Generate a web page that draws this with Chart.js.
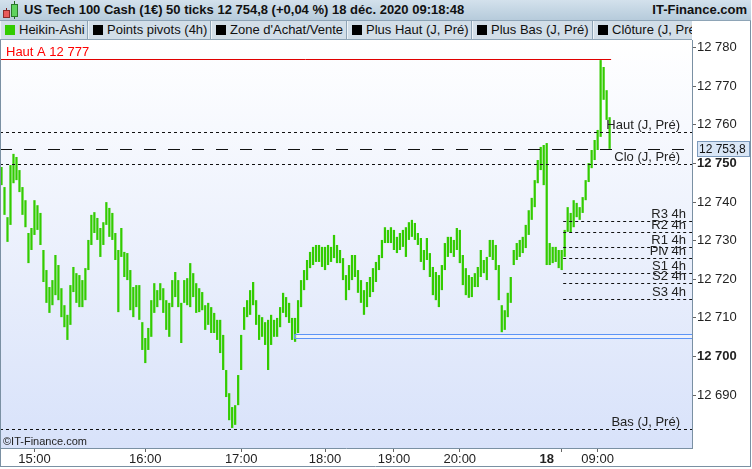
<!DOCTYPE html>
<html>
<head>
<meta charset="utf-8">
<script src="https://cdn.jsdelivr.net/npm/chart.js@4.4.0/dist/chart.umd.min.js"></script>
<style>
  body { margin: 0; width: 752px; height: 469px; overflow: hidden; position: relative; background: #fff;
         font-family: "Liberation Sans", Arial, sans-serif; }
  #chart { position: absolute; left: 0; top: 0; }
  #title { position: absolute; left: 0; top: 0; width: 751px; height: 20px; border-bottom: 1px solid #8ea4b6;
           background: linear-gradient(#d3e1ec, #b6cbdb); font-weight: bold; font-size: 13px; line-height: 20px; color: #111; }
  #title .name { position: absolute; left: 24px; top: 0; }
  #title .site { position: absolute; right: 4px; top: 0; }
  .cdl { position: absolute; }
  #legend { position: absolute; left: 0; top: 21px; width: 692px; height: 18px; background: #d2dee8;
            border-bottom: 1px solid #8ea4b6; overflow: hidden; font-size: 13px; line-height: 18px; color: #111; }
  .cell { position: absolute; top: 0; height: 18px; border-right: 1px solid #8ea4b6; box-shadow: inset 1px 0 0 #eef3f7; white-space: nowrap; }
  .cell i { position: absolute; left: 5px; top: 4px; width: 10px; height: 10px; background: #000; }
  .cell span { position: absolute; left: 19px; top: 0; }
</style>
</head>
<body>
<canvas id="chart" width="752" height="469"></canvas>

<div id="title">
  <div class="cdl" style="left:6px;top:8px;width:1px;height:10px;background:#7a2020"></div>
  <div class="cdl" style="left:3px;top:10px;width:5px;height:6px;background:#e85a5a;border:1px solid #8a2a2a"></div>
  <div class="cdl" style="left:14px;top:1px;width:1px;height:18px;background:#1f6a1f"></div>
  <div class="cdl" style="left:11px;top:4px;width:5px;height:11px;background:#5fd35f;border:1px solid #2a7a2a"></div>
  <span class="name">US Tech 100 Cash (1€) 50 ticks 12 754,8 (+0,04 %) 18 déc. 2020 09:18:48</span>
  <span class="site">IT-Finance.com</span>
</div>

<div id="legend">
  <div class="cell" style="left:0;width:87px"><i style="background:#33cc00"></i><span>Heikin-Ashi</span></div>
  <div class="cell" style="left:88px;width:122px"><i></i><span>Points pivots (4h)</span></div>
  <div class="cell" style="left:211px;width:135px"><i></i><span>Zone d'Achat/Vente</span></div>
  <div class="cell" style="left:347px;width:124px"><i></i><span>Plus Haut (J, Pré)</span></div>
  <div class="cell" style="left:472px;width:120px"><i></i><span>Plus Bas (J, Pré)</span></div>
  <div class="cell" style="left:593px;width:110px"><i></i><span>Clôture (J, Pré)</span></div>
</div>

<script>
// Heikin-Ashi candles, 50 ticks each (grouped)
const candleHighs = [
  12749.1, 12743.9, 12736.1, 12749.6, 12752.5, 12751.7, 12748.3, 12743.9, 12740.5, 12732.0,
  12733.3, 12740.5, 12739.2, 12737.2, 12727.6, 12722.4, 12718.0, 12719.8, 12726.3, 12723.7,
  12717.7, 12713.3, 12710.8, 12718.5, 12723.2, 12721.6, 12721.1, 12719.8, 12722.9, 12730.2,
  12736.7, 12737.4, 12735.9, 12733.3, 12734.8, 12740.0, 12738.5, 12737.2, 12732.0, 12727.6,
  12733.3, 12727.1, 12726.8, 12722.4, 12718.0, 12718.5, 12718.5, 12708.9, 12704.8, 12707.4,
  12714.6, 12719.0, 12717.2, 12719.0, 12717.7, 12714.6, 12713.9, 12719.8, 12721.9, 12719.8,
  12713.9, 12719.8, 12720.3, 12724.2, 12721.6, 12719.0, 12717.7, 12716.7, 12713.3, 12713.9,
  12712.8, 12711.3, 12709.5, 12709.5, 12705.6, 12696.5, 12690.5, 12686.9, 12687.4, 12695.2,
  12705.6, 12712.8, 12714.6, 12717.2, 12719.3, 12714.6, 12710.8, 12710.2, 12708.9, 12709.5,
  12710.8, 12709.5, 12710.0, 12712.8, 12716.5, 12715.4, 12713.9, 12710.0, 12710.0, 12714.6,
  12719.8, 12722.4, 12725.0, 12727.1, 12728.4, 12728.9, 12728.9, 12728.4, 12728.4, 12728.9,
  12728.4, 12731.5, 12728.9, 12727.6, 12725.5, 12721.1, 12723.7, 12726.3, 12726.3, 12722.4,
  12719.8, 12717.2, 12719.3, 12720.6, 12722.9, 12724.5, 12726.3, 12730.2, 12733.5, 12732.8,
  12733.5, 12732.8, 12731.0, 12732.0, 12732.8, 12733.5, 12734.8, 12735.4, 12734.6, 12732.0,
  12730.7, 12727.6, 12730.7, 12726.8, 12723.2, 12721.9, 12721.1, 12723.7, 12729.4, 12731.0,
  12731.0, 12730.2, 12733.3, 12732.8, 12726.3, 12722.9, 12721.1, 12720.6, 12721.6, 12723.2,
  12727.6, 12725.0, 12725.8, 12730.2, 12730.2, 12728.9, 12723.7, 12713.3, 12712.0, 12716.5,
  12720.6, 12727.6, 12729.4, 12730.2, 12731.0, 12734.1, 12737.9, 12741.1, 12745.7, 12750.9,
  12754.3, 12754.8, 12755.3, 12729.4, 12728.4, 12728.4, 12727.6, 12727.6, 12732.8, 12738.7,
  12737.2, 12740.5, 12739.8, 12738.7, 12741.3, 12745.7, 12750.1, 12753.5, 12756.1, 12758.7,
  12776.8, 12775.0, 12769.0, 12762.0
];
const candleLows = [
  12744.4, 12736.7, 12729.7, 12734.1, 12744.9, 12745.7, 12742.6, 12736.7, 12733.5, 12724.2,
  12727.6, 12731.5, 12732.8, 12728.9, 12719.3, 12713.9, 12711.3, 12713.3, 12715.9, 12714.6,
  12710.2, 12707.6, 12704.3, 12708.2, 12716.7, 12713.9, 12712.8, 12712.8, 12714.6, 12722.4,
  12728.9, 12732.0, 12730.2, 12725.8, 12728.9, 12734.1, 12731.0, 12730.2, 12725.0, 12711.5,
  12725.8, 12720.6, 12719.8, 12712.0, 12710.2, 12712.8, 12709.5, 12701.7, 12698.3, 12701.7,
  12705.1, 12711.3, 12712.8, 12714.6, 12711.3, 12706.9, 12705.1, 12712.8, 12715.4, 12712.8,
  12703.5, 12713.9, 12713.3, 12712.8, 12715.4, 12711.3, 12711.5, 12712.0, 12706.9, 12708.2,
  12706.1, 12706.1, 12704.3, 12700.9, 12696.5, 12689.5, 12683.5, 12681.5, 12682.3, 12687.4,
  12696.5, 12706.9, 12710.2, 12710.8, 12713.3, 12708.2, 12704.3, 12705.1, 12703.0, 12696.5,
  12703.0, 12705.1, 12705.1, 12707.6, 12711.3, 12710.2, 12708.7, 12704.3, 12703.8, 12706.1,
  12712.8, 12717.2, 12719.8, 12722.9, 12723.7, 12724.5, 12724.5, 12723.2, 12722.4, 12723.7,
  12724.5, 12725.5, 12724.2, 12724.2, 12719.8, 12714.6, 12717.2, 12719.8, 12720.6, 12716.5,
  12713.9, 12710.8, 12712.8, 12715.4, 12716.7, 12719.3, 12722.4, 12725.5, 12729.4, 12729.4,
  12729.4, 12727.6, 12726.8, 12727.6, 12728.4, 12725.8, 12730.2, 12731.0, 12730.2, 12728.9,
  12724.5, 12722.4, 12725.0, 12720.6, 12715.9, 12714.6, 12712.8, 12717.2, 12722.4, 12725.8,
  12726.8, 12725.8, 12727.6, 12724.2, 12718.5, 12715.9, 12715.2, 12715.4, 12718.0, 12718.0,
  12720.6, 12721.6, 12719.8, 12725.8, 12725.0, 12722.4, 12714.6, 12706.3, 12706.9, 12710.2,
  12713.9, 12723.7, 12725.0, 12725.8, 12726.8, 12728.1, 12731.5, 12735.4, 12738.7, 12744.9,
  12748.3, 12744.4, 12723.7, 12723.7, 12724.2, 12724.5, 12722.9, 12722.4, 12725.8, 12732.3,
  12732.0, 12733.5, 12736.1, 12735.4, 12737.2, 12740.5, 12745.2, 12748.8, 12750.9, 12753.5,
  12756.9, 12766.5, 12761.3, 12753.8
];

// x axis: bar slots (data plus empty space on the right) and time ticks
const slotCount = 231;
const tickSlots = [11, 48, 80, 108, 131, 153, 182, 187, 199];
const tickTexts = ['15:00', '16:00', '17:00', '18:00', '19:00', '20:00', '18', '', '09:00'];

// y axis
const yMin = 12676.3, yMax = 12782.0;
const yTicks = [12690, 12700, 12710, 12720, 12730, 12740, 12750, 12760, 12770, 12780];

// indicator levels
const lastPrice = 12753.8;
const highA = 12777;
const dayNames = ['Haut (J, Pré)', 'Clo (J, Pré)', 'Bas (J, Pré)'];
const dayValues = [12758.1, 12749.8, 12681.1];
const pivotNames = ['R3 4h', 'R2 4h', 'R1 4h', 'Piv 4h', 'S1 4h', 'S2 4h', 'S3 4h'];
const pivotValues = [12735.0, 12732.2, 12728.3, 12725.4, 12721.6, 12719.0, 12714.8];
const pivotStart = 188;
const zoneValues = [12705.75, 12704.8];
const zoneStart = 98;

const labels = [];
for (let i = 0; i < slotCount; i++) {
  const k = tickSlots.indexOf(i);
  labels.push(k >= 0 ? tickTexts[k] : '');
}
const candles = candleHighs.map((h, i) => [candleLows[i], h]);

const fmt = v => Math.floor(v / 1000) + ' ' + String(Math.round(v % 1000)).padStart(3, '0');
const FONT = '"Liberation Sans", Arial, sans-serif';

const bgPlugin = {
  id: 'bg',
  beforeDraw(chart) {
    const { ctx, chartArea: a } = chart;
    const g = ctx.createLinearGradient(0, a.top, 0, a.bottom);
    g.addColorStop(0, '#ffffff');
    g.addColorStop(1, '#d8e2fa');
    ctx.save();
    ctx.fillStyle = g;
    ctx.fillRect(a.left, a.top, a.right - a.left, a.bottom - a.top);
    ctx.restore();
  }
};

const overlayPlugin = {
  id: 'overlay',
  afterDatasetsDraw(chart) {
    const { ctx, chartArea: a, scales: { x, y } } = chart;
    const slot = x.getPixelForValue(1) - x.getPixelForValue(0);
    const edge = i => x.getPixelForValue(i) - slot / 2;
    const py = v => Math.round(y.getPixelForValue(v)) + 0.5;
    const hline = (v, x0, x1, dash, color) => {
      ctx.beginPath();
      ctx.setLineDash(dash);
      ctx.strokeStyle = color;
      ctx.lineWidth = 1;
      ctx.moveTo(x0, py(v));
      ctx.lineTo(x1, py(v));
      ctx.stroke();
    };
    ctx.save();
    ctx.font = '13px ' + FONT;
    ctx.textAlign = 'right';
    ctx.textBaseline = 'alphabetic';

    // zone d'achat/vente
    ctx.setLineDash([]);
    ctx.strokeStyle = '#5c94f6';
    ctx.fillStyle = 'rgba(255,255,255,0.35)';
    const zx = Math.round(edge(zoneStart)) + 0.5;
    const zt = py(zoneValues[0]), zb = py(zoneValues[1]);
    ctx.fillRect(zx, zt, a.right - zx, zb - zt);
    ctx.beginPath();
    ctx.moveTo(a.right, zt); ctx.lineTo(zx, zt); ctx.lineTo(zx, zb); ctx.lineTo(a.right, zb);
    ctx.stroke();

    // daily levels
    dayValues.forEach((v, i) => {
      hline(v, a.left, a.right, [3, 3], '#111');
      ctx.fillStyle = '#222';
      ctx.fillText(dayNames[i], a.right - 12, py(v) - 4);
    });

    // pivots 4h
    pivotValues.forEach((v, i) => {
      hline(v, edge(pivotStart), a.right, [3, 3], '#111');
      ctx.fillStyle = '#222';
      ctx.fillText(pivotNames[i], a.right - 6, py(v) - 4);
    });

    // last price
    hline(lastPrice, a.left, a.right, [12, 12], '#111');

    // highest point
    hline(highA, a.left, edge(candleHighs.length), [], '#e00000');
    ctx.textAlign = 'left';
    ctx.fillStyle = '#ff0000';
    ctx.fillText('Haut A ' + fmt(highA), 6, py(highA) - 4);

    ctx.font = '11px ' + FONT;
    ctx.fillStyle = '#222';
    ctx.fillText('©IT-Finance.com', 3, a.bottom - 3);
    ctx.restore();
  },
  afterDraw(chart) {
    const { ctx, chartArea: a, scales: { y } } = chart;
    ctx.save();
    // price box
    const yp = Math.round(y.getPixelForValue(lastPrice));
    ctx.fillStyle = '#d9e6f6';
    ctx.strokeStyle = '#7d9bbd';
    ctx.fillRect(a.right + 5, yp - 8, 53, 16);
    ctx.strokeRect(a.right + 5.5, yp - 7.5, 52, 15);
    ctx.fillStyle = '#111';
    ctx.font = '12px ' + FONT;
    ctx.textBaseline = 'middle';
    ctx.fillText(fmt(Math.floor(lastPrice)) + ',' + Math.round((lastPrice % 1) * 10), a.right + 7, yp + 1);
    // frame
    ctx.strokeStyle = '#7a90a3';
    ctx.lineWidth = 1;
    ctx.beginPath();
    ctx.moveTo(0.5, a.top); ctx.lineTo(0.5, 467);
    ctx.moveTo(0, 466.5); ctx.lineTo(751, 466.5);
    ctx.moveTo(750.5, 21); ctx.lineTo(750.5, 467);
    ctx.stroke();
    ctx.restore();
  }
};

new Chart(document.getElementById('chart').getContext('2d'), {
  type: 'bar',
  data: {
    labels: labels,
    datasets: [{
      label: 'Heikin-Ashi',
      data: candles,
      backgroundColor: '#33cc00',
      borderWidth: 0,
      barPercentage: 0.75,
      categoryPercentage: 1.0
    }]
  },
  options: {
    responsive: false,
    animation: false,
    devicePixelRatio: 1,
    layout: { padding: { top: 40, left: 0, right: 0, bottom: 3 } },
    plugins: { legend: { display: false }, tooltip: { enabled: false }, title: { display: false } },
    scales: {
      x: {
        type: 'category',
        grid: { display: true, offset: false, drawOnChartArea: false, drawTicks: true, tickLength: 4,
                color: ctx => (ctx.tick && ctx.tick.label === '18') ? 'rgba(0,0,0,0)' : '#666' },
        border: { display: true, color: '#7a90a3' },
        ticks: {
          autoSkip: false, maxRotation: 0, padding: 0, color: '#222',
          callback: v => labels[v],
          font: ctx => ({ family: FONT, size: 13, weight: (ctx.tick && ctx.tick.label === '18') ? 'bold' : 'normal' })
        },
        afterBuildTicks: s => { s.ticks = s.ticks.filter(t => tickSlots.includes(t.value)); },
        afterFit: s => { s.height = 18; }
      },
      y: {
        position: 'right',
        min: yMin,
        max: yMax,
        grid: { display: true, drawOnChartArea: false, drawTicks: true, tickLength: 4, color: '#666' },
        border: { display: true, color: '#7a90a3' },
        ticks: {
          padding: 1, color: '#222',
          callback: v => fmt(v),
          font: ctx => ({ family: FONT, size: 13, weight: (ctx.tick && ctx.tick.value % 50 === 0) ? 'bold' : 'normal' })
        },
        afterBuildTicks: s => { s.ticks = yTicks.map(v => ({ value: v })); },
        afterFit: s => { s.width = 60; }
      }
    }
  },
  plugins: [bgPlugin, overlayPlugin]
});
</script>
</body>
</html>
